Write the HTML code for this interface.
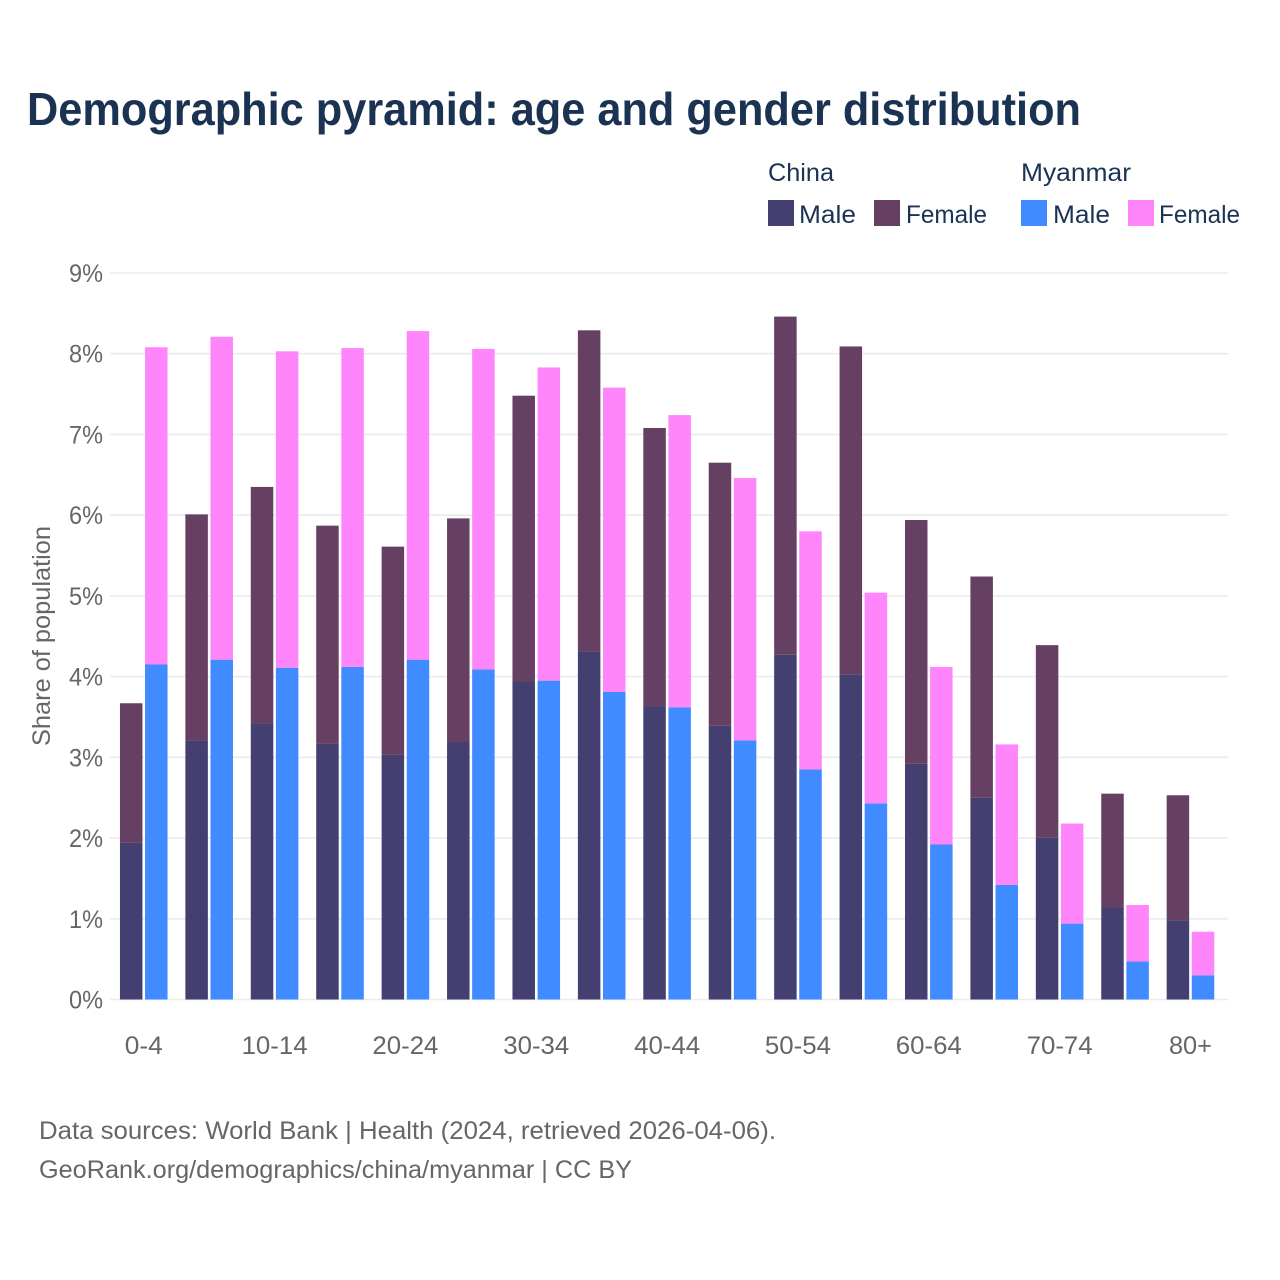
<!DOCTYPE html>
<html lang="en">
<head>
<meta charset="utf-8">
<title>Demographic pyramid: age and gender distribution</title>
<style>
html,body{margin:0;padding:0;background:#fff;}
svg{display:block;font-family:"Liberation Sans",sans-serif;}
</style>
</head>
<body>
<svg id="chart" xmlns="http://www.w3.org/2000/svg" width="1280" height="1280" viewBox="0 0 1280 1280">
  <rect x="0" y="0" width="1280" height="1280" fill="#ffffff"/>
  <text x="27" y="125" font-size="46" font-weight="700" fill="#1a3353" textLength="1054" lengthAdjust="spacingAndGlyphs">Demographic pyramid: age and gender distribution</text>

  <g font-size="25" fill="#1a3353">
    <text x="768" y="181" textLength="66" lengthAdjust="spacingAndGlyphs">China</text>
    <text x="1021" y="181" textLength="110" lengthAdjust="spacingAndGlyphs">Myanmar</text>
    <rect x="768" y="200" width="26" height="26" fill="#433f70"/>
    <text x="799" y="223" textLength="57" lengthAdjust="spacingAndGlyphs">Male</text>
    <rect x="874" y="200" width="26" height="26" fill="#664062"/>
    <text x="906" y="223" textLength="81" lengthAdjust="spacingAndGlyphs">Female</text>
    <rect x="1021" y="200" width="26" height="26" fill="#3f8bff"/>
    <text x="1053" y="223" textLength="57" lengthAdjust="spacingAndGlyphs">Male</text>
    <rect x="1128" y="200" width="26" height="26" fill="#ff85fb"/>
    <text x="1159" y="223" textLength="81" lengthAdjust="spacingAndGlyphs">Female</text>
  </g>

  <g id="grid"></g>
  <g id="ylabels"></g>
  <g id="bars"></g>
  <g id="xlabels"></g>

  <text transform="translate(50,636) rotate(-90)" text-anchor="middle" font-size="25" fill="#666666" textLength="220" lengthAdjust="spacingAndGlyphs">Share of population</text>

  <text x="39" y="1139" font-size="25" fill="#666666" textLength="737" lengthAdjust="spacingAndGlyphs">Data sources: World Bank | Health (2024, retrieved 2026-04-06).</text>
  <text x="39" y="1178" font-size="25" fill="#666666" textLength="593" lengthAdjust="spacingAndGlyphs">GeoRank.org/demographics/china/myanmar | CC BY</text>
</svg>
<script>
const categories = ["0-4","5-9","10-14","15-19","20-24","25-29","30-34","35-39","40-44","45-49","50-54","55-59","60-64","65-69","70-74","75-79","80+"];
const categoryLabels = ["0-4","","10-14","","20-24","","30-34","","40-44","","50-54","","60-64","","70-74","","80+"];
const chinaMale = [1.94,3.21,3.42,3.17,3.03,3.19,3.94,4.31,3.63,3.39,4.27,4.03,2.92,2.50,2.01,1.14,0.98];
const chinaFemale = [1.73,2.80,2.93,2.70,2.58,2.77,3.54,3.98,3.45,3.26,4.19,4.06,3.02,2.74,2.38,1.41,1.55];
const myanmarMale = [4.15,4.21,4.11,4.12,4.21,4.09,3.95,3.81,3.62,3.21,2.85,2.43,1.92,1.42,0.94,0.47,0.30];
const myanmarFemale = [3.93,4.00,3.92,3.95,4.07,3.97,3.88,3.77,3.62,3.25,2.95,2.61,2.20,1.74,1.24,0.70,0.54];
const yTicks = [0,1,2,3,4,5,6,7,8,9];
const yTickLabels = ["0%","1%","2%","3%","4%","5%","6%","7%","8%","9%"];

const NS = "http://www.w3.org/2000/svg";
const plotLeft = 110, plotRight = 1228, baseY = 999.5, topY = 273, yMax = 9;
const firstCenter = 143.75, step = 65.42, barW = 22.5, barGap = 2.6;
const yScale = v => baseY - (v / yMax) * (baseY - topY);
const xScale = i => firstCenter + i * step;

function make(tag, attrs, parent, text) {
  const el = document.createElementNS(NS, tag);
  for (const k in attrs) el.setAttribute(k, attrs[k]);
  if (text !== undefined) el.textContent = text;
  parent.appendChild(el);
  return el;
}

const grid = document.getElementById("grid");
const ylabels = document.getElementById("ylabels");
yTicks.forEach((t, i) => {
  const line = make("line", {x1: plotLeft, x2: plotRight, y1: yScale(t), y2: yScale(t), stroke: "#ebebeb", "stroke-width": 1.6}, grid);
  
  
  const label = make("text", {x: 103, y: yScale(t) + 9, "text-anchor": "end", "font-size": 25, fill: "#666666", textLength: 34, lengthAdjust: "spacingAndGlyphs"}, ylabels, yTickLabels[i]);
  
  
});

const bars = document.getElementById("bars");
function stacked(i, x, lower, upper, lowerColor, upperColor) {
  const y0 = yScale(0), y1 = yScale(lower), y2 = yScale(lower + upper);
  const lo = make("rect", {x: x, y: y1, width: barW, height: y0 - y1, fill: lowerColor}, bars);
  
  
  const up = make("rect", {x: x, y: y2, width: barW, height: y1 - y2, fill: upperColor}, bars);
  
  
}
categories.forEach((c, i) => {
  const cx = xScale(i);
  stacked(i, cx - barW - barGap / 2, chinaMale[i], chinaFemale[i], "#433f70", "#664062");
  stacked(i, cx + barGap / 2, myanmarMale[i], myanmarFemale[i], "#3f8bff", "#ff85fb");
});

const xlabels = document.getElementById("xlabels");
categoryLabels.forEach((label, i) => {
  if (!label) return;
  const len = label.length === 3 ? (label === "0-4" ? 38 : 43) : 66;
  const t = make("text", {x: xScale(i), y: 1054, "text-anchor": "middle", "font-size": 25, fill: "#666666", textLength: len, lengthAdjust: "spacingAndGlyphs"}, xlabels, label);
  
  
});
</script>
</body>
</html>
